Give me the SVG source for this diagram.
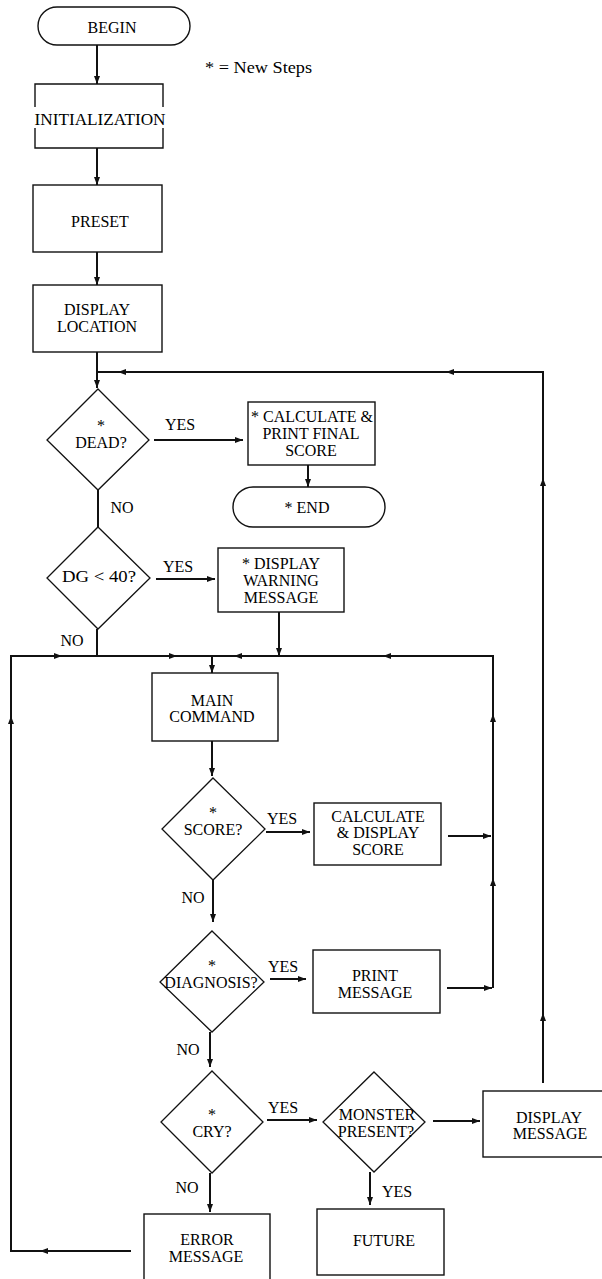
<svg xmlns="http://www.w3.org/2000/svg" xmlns:xlink="http://www.w3.org/1999/xlink" width="602" height="1279" viewBox="0 0 602 1279">
<style>
  .box { fill: #fff; stroke: #111; stroke-width: 1.4; }
  .dia { fill: #fff; stroke: #111; stroke-width: 1.3; }
  .t { font-family: "Liberation Serif", "Times New Roman", serif; font-size: 16px; fill: #000; text-anchor: middle; }
  .lbl { font-family: "Liberation Serif", "Times New Roman", serif; font-size: 16px; fill: #000; text-anchor: middle; }
  .c { fill: none; stroke: #111; stroke-width: 2; }
  .ca { fill: none; stroke: #111; stroke-width: 2; marker-end: url(#arr); }
  .ah { fill: #111; }
</style>
<defs>
  <marker id="arr" viewBox="0 0 8 6" refX="8" refY="3" markerWidth="8" markerHeight="6" markerUnits="userSpaceOnUse" orient="auto">
    <path d="M0,0 L8,3 L0,6 Z" fill="#111"/>
  </marker>
  <path id="ah" d="M4,0 L-4,-3 L-4,3 Z"/>
</defs>
<rect width="602" height="1279" fill="#fff"/>

<g id="connectors">
  <line class="ca" x1="97" y1="45" x2="97" y2="84"/>
  <line class="ca" x1="97" y1="148" x2="97" y2="185"/>
  <line class="ca" x1="97" y1="252" x2="97" y2="285"/>
  <line class="ca" x1="97" y1="352" x2="97" y2="388"/>
  <path class="c" d="M543,1083 L543,372 L98,372"/>
  <use xlink:href="#ah" class="ah" transform="translate(543,1017) rotate(-90)"/>
  <use xlink:href="#ah" class="ah" transform="translate(543,482) rotate(-90)"/>
  <use xlink:href="#ah" class="ah" transform="translate(450,372) rotate(180)"/>
  <use xlink:href="#ah" class="ah" transform="translate(122,372) rotate(180)"/>
  <line class="ca" x1="154" y1="440" x2="243" y2="440"/>
  <line class="ca" x1="308" y1="465" x2="308" y2="487"/>
  <line class="c" x1="98" y1="490" x2="98" y2="527"/>
  <line class="ca" x1="156" y1="579" x2="215" y2="579"/>
  <line class="c" x1="97" y1="629" x2="97" y2="656"/>
  <line class="ca" x1="279" y1="612" x2="279" y2="656"/>
  <path class="c" d="M131,1251 L11,1251 L11,656 L493,656 L493,988"/>
  <use xlink:href="#ah" class="ah" transform="translate(44,1251) rotate(180)"/>
  <use xlink:href="#ah" class="ah" transform="translate(11,720) rotate(-90)"/>
  <use xlink:href="#ah" class="ah" transform="translate(58,656)"/>
  <use xlink:href="#ah" class="ah" transform="translate(173,656)"/>
  <use xlink:href="#ah" class="ah" transform="translate(238,656) rotate(180)"/>
  <use xlink:href="#ah" class="ah" transform="translate(387,656) rotate(180)"/>
  <use xlink:href="#ah" class="ah" transform="translate(493,718) rotate(-90)"/>
  <use xlink:href="#ah" class="ah" transform="translate(493,882) rotate(-90)"/>
  <line class="ca" x1="212" y1="656" x2="212" y2="673"/>
  <line class="ca" x1="212" y1="741" x2="212" y2="776"/>
  <line class="ca" x1="266" y1="832" x2="310" y2="832"/>
  <line class="ca" x1="448" y1="836" x2="491" y2="836"/>
  <line class="ca" x1="213" y1="880" x2="213" y2="922"/>
  <line class="ca" x1="270" y1="979" x2="306" y2="979"/>
  <line class="ca" x1="447" y1="988" x2="492" y2="988"/>
  <line class="ca" x1="210" y1="1032" x2="210" y2="1067"/>
  <line class="ca" x1="267" y1="1120" x2="317" y2="1120"/>
  <line class="ca" x1="433" y1="1121" x2="480" y2="1121"/>
  <line class="ca" x1="370" y1="1172" x2="370" y2="1205"/>
  <line class="ca" x1="210" y1="1173" x2="210" y2="1212"/>
  <text class="lbl" x="180" y="430">YES</text>
  <text class="lbl" x="122" y="513">NO</text>
  <text class="lbl" x="178" y="572">YES</text>
  <text class="lbl" x="72" y="646">NO</text>
  <text class="lbl" x="282" y="824">YES</text>
  <text class="lbl" x="193" y="903">NO</text>
  <text class="lbl" x="283" y="972">YES</text>
  <text class="lbl" x="188" y="1055">NO</text>
  <text class="lbl" x="283" y="1113">YES</text>
  <text class="lbl" x="187" y="1193">NO</text>
  <text class="lbl" x="397" y="1197">YES</text>
</g>

<g id="note">
  <text class="t" x="205" y="73" style="text-anchor:start" textLength="107" lengthAdjust="spacingAndGlyphs">* = New Steps</text>
</g>

<g id="begin">
  <rect class="box" x="38" y="7" width="152" height="38" rx="19"/>
  <text class="t" x="112" y="33">BEGIN</text>
</g>

<g id="initialization">
  <path class="c" style="stroke-width:1.4" d="M35,107 L35,84 L163,84 L163,107 M35,128 L35,148 L163,148 L163,128"/>
  <text class="t" x="100" y="125" textLength="131" lengthAdjust="spacingAndGlyphs">INITIALIZATION</text>
</g>

<g id="preset">
  <rect class="box" x="33" y="185" width="129" height="67"/>
  <text class="t" x="100" y="227">PRESET</text>
</g>

<g id="display-location">
  <rect class="box" x="33" y="285" width="129" height="67"/>
  <text class="t" x="97" y="315">DISPLAY</text>
  <text class="t" x="97" y="332">LOCATION</text>
</g>

<g id="dead">
  <polygon class="dia" points="98,389 149,440 98,490 47,440"/>
  <text class="t" x="101" y="431">*</text>
  <text class="t" x="101" y="448">DEAD?</text>
</g>

<g id="calc-final">
  <rect class="box" x="248" y="402" width="127" height="63"/>
  <text class="t" x="312" y="422">* CALCULATE &amp;</text>
  <text class="t" x="311" y="439">PRINT FINAL</text>
  <text class="t" x="311" y="456">SCORE</text>
</g>

<g id="end">
  <rect class="box" x="233" y="487" width="152" height="40" rx="20"/>
  <text class="t" x="307" y="513">* END</text>
</g>

<g id="dg40">
  <polygon class="dia" points="98,527 150,578 98,629 47,578"/>
  <text class="t" x="99" y="582" textLength="74" lengthAdjust="spacingAndGlyphs">DG &lt; 40?</text>
</g>

<g id="warning">
  <rect class="box" x="218" y="548" width="126" height="64"/>
  <text class="t" x="281" y="569">* DISPLAY</text>
  <text class="t" x="281" y="586">WARNING</text>
  <text class="t" x="281" y="603">MESSAGE</text>
</g>

<g id="main-command">
  <rect class="box" x="152" y="673" width="126" height="68"/>
  <text class="t" x="212" y="706">MAIN</text>
  <text class="t" x="212" y="722">COMMAND</text>
</g>

<g id="score">
  <polygon class="dia" points="213,778 265,829 213,880 162,829"/>
  <text class="t" x="213" y="818">*</text>
  <text class="t" x="213" y="835">SCORE?</text>
</g>

<g id="calc-display">
  <rect class="box" x="314" y="803" width="127" height="62"/>
  <text class="t" x="378" y="822">CALCULATE</text>
  <text class="t" x="378" y="838">&amp; DISPLAY</text>
  <text class="t" x="378" y="855">SCORE</text>
</g>

<g id="diagnosis">
  <polygon class="dia" points="212,931 264,982 212,1032 160,982"/>
  <text class="t" x="212" y="971">*</text>
  <text class="t" x="211" y="988">DIAGNOSIS?</text>
</g>

<g id="print-message">
  <rect class="box" x="313" y="950" width="127" height="63"/>
  <text class="t" x="375" y="981">PRINT</text>
  <text class="t" x="375" y="998">MESSAGE</text>
</g>

<g id="cry">
  <polygon class="dia" points="212,1071 263,1122 212,1173 161,1122"/>
  <text class="t" x="212" y="1120">*</text>
  <text class="t" x="212" y="1137">CRY?</text>
</g>

<g id="monster">
  <polygon class="dia" points="374,1072 425,1122 374,1172 323,1122"/>
  <text class="t" x="377" y="1120">MONSTER</text>
  <text class="t" x="376" y="1137">PRESENT?</text>
</g>

<g id="display-message">
  <rect class="box" x="483" y="1091" width="140" height="66"/>
  <text class="t" x="549" y="1123">DISPLAY</text>
  <text class="t" x="550" y="1139">MESSAGE</text>
</g>

<g id="future">
  <rect class="box" x="317" y="1209" width="127" height="66"/>
  <text class="t" x="384" y="1246">FUTURE</text>
</g>

<g id="error-message">
  <rect class="box" x="144" y="1214" width="126" height="80"/>
  <text class="t" x="207" y="1245">ERROR</text>
  <text class="t" x="206" y="1262">MESSAGE</text>
</g>
</svg>
